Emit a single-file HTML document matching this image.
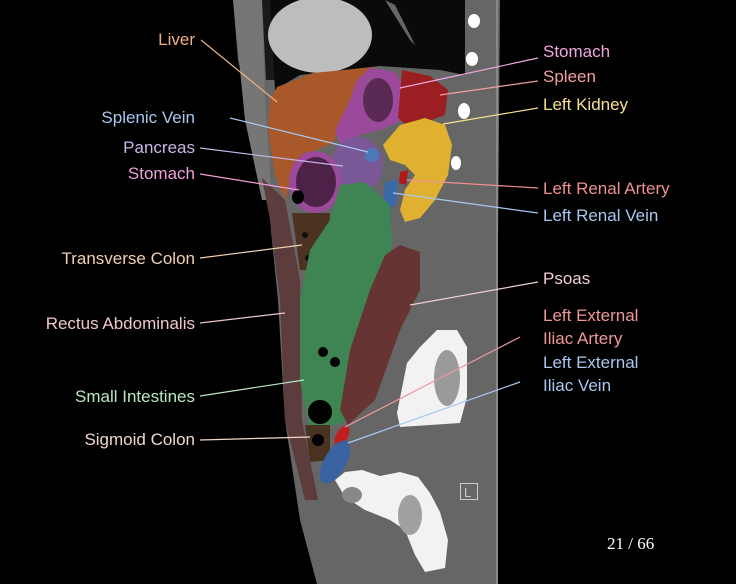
<!DOCTYPE html>
<html><head><meta charset="utf-8"><style>
html,body{margin:0;padding:0;background:#000;}
svg{display:block;}
text{font-family:"Liberation Sans","DejaVu Sans",sans-serif;font-size:17px;}
</style></head><body>
<svg width="736" height="584" viewBox="0 0 736 584" xmlns="http://www.w3.org/2000/svg">
<rect width="736" height="584" fill="#000"/>
<!-- body -->
<path d="M233,0 L500,0 L498,250 L497,584 L317,584 L300,520 L285,420 L278,300 L268,200 L252,120 L238,60 Z" fill="#666"/>
<path d="M233,0 L262,0 L265,100 L272,200 L262,200 L245,120 Z" fill="#767676"/>
<path d="M262,0 L275,0 L275,80 L266,80 Z" fill="#1a1a1a"/>
<!-- dark upper chest -->
<path d="M270,0 L465,0 L465,75 L440,70 L380,66 L300,75 L275,90 Z" fill="#0a0a0a"/>
<ellipse cx="320" cy="35" rx="52" ry="38" fill="#bdbdbd"/>
<path d="M385,0 L410,40 L415,45 L395,5Z" fill="#666"/>
<line x1="497" y1="0" x2="497" y2="584" stroke="#888" stroke-width="2"/>
<ellipse cx="474" cy="21" rx="6" ry="7" fill="#fff"/>
<ellipse cx="472" cy="59" rx="6" ry="7" fill="#fff"/>
<ellipse cx="464" cy="111" rx="6" ry="8" fill="#fff"/>
<ellipse cx="456" cy="163" rx="5" ry="7" fill="#fff"/>
<!-- liver -->
<path d="M270,100 L277,87 L313,73 L375,67 L363,77 L337,133 L333,143 L310,153 L292,173 L285,200 L275,175 L268,130 Z" fill="#a9582a"/>
<!-- stomach -->
<path d="M370,68 L395,72 L405,90 L402,120 L385,128 L360,135 L340,143 L335,130 L350,100 L357,80 Z" fill="#9b4a9b"/>
<ellipse cx="378" cy="100" rx="15" ry="22" fill="#5a2a55"/>
<!-- spleen -->
<path d="M402,70 L430,76 L448,90 L445,115 L410,128 L398,118 L400,95 Z" fill="#9a1e22"/>
<!-- kidney -->
<path d="M400,125 L425,118 L445,125 L452,145 L448,175 L435,200 L420,218 L405,222 L400,210 L405,190 L415,175 L405,165 L390,160 L383,145 Z" fill="#e0b030"/>
<!-- pancreas -->
<ellipse cx="357" cy="165" rx="26" ry="28" fill="#7a5898"/>
<!-- lower stomach -->
<ellipse cx="315" cy="182" rx="26" ry="31" fill="#9b4a9b"/>
<ellipse cx="316" cy="182" rx="20" ry="25" fill="#4e2248"/>
<ellipse cx="298" cy="197" rx="6" ry="7" fill="#000"/>
<!-- vessels -->
<circle cx="372" cy="155" r="7" fill="#4a7ab8"/>
<path d="M400,172 L408,170 L406,185 L399,183Z" fill="#b01a1a"/>
<path d="M385,182 L398,180 L396,205 L385,210 L383,195Z" fill="#3a6aa8"/>
<!-- rectus -->
<path d="M262,178 L285,200 L300,280 L302,420 L318,500 L305,500 L285,420 L280,300 L270,220 Z" fill="#5c3c3c"/>
<!-- transverse colon -->
<path d="M292,213 L330,213 L328,270 L300,270 Z" fill="#4c3220"/>
<circle cx="305" cy="235" r="3" fill="#111"/><circle cx="315" cy="248" r="3" fill="#111"/><circle cx="308" cy="258" r="3" fill="#111"/>
<!-- small intestines -->
<path d="M340,185 L365,182 L390,205 L392,240 L385,300 L370,360 L350,420 L335,425 L310,430 L300,380 L300,300 L310,250 L330,220 Z" fill="#3e8553"/>
<circle cx="323" cy="352" r="5" fill="#000"/><circle cx="335" cy="362" r="5" fill="#000"/><circle cx="320" cy="412" r="12" fill="#000"/>
<!-- psoas -->
<path d="M400,245 L420,252 L420,290 L400,330 L375,400 L348,425 L340,410 L350,350 L370,290 L385,255 Z" fill="#673434"/>
<!-- sigmoid -->
<path d="M305,425 L330,425 L330,460 L310,462 Z" fill="#4a3220"/>
<circle cx="318" cy="440" r="6" fill="#000"/>
<!-- iliac vessels -->
<ellipse cx="342" cy="436" rx="6" ry="11" transform="rotate(30 342 436)" fill="#c01e1e"/>
<ellipse cx="335" cy="462" rx="11" ry="24" transform="rotate(30 335 462)" fill="#3a62a0"/>
<!-- pelvic bone -->
<path d="M397,413 L407,363 L420,347 L437,330 L457,330 L467,347 L467,397 L460,423 L400,427 Z" fill="#f2f2f2"/>
<ellipse cx="447" cy="378" rx="13" ry="28" fill="#9a9a9a"/>
<!-- femoral head -->
<path d="M335,480 L345,497 L365,510 L390,520 L405,530 L415,555 L425,572 L445,568 L448,540 L440,512 L430,493 L418,477 L400,472 L380,476 L362,470 L345,472 Z" fill="#f2f2f2"/>
<ellipse cx="352" cy="495" rx="10" ry="8" fill="#888"/>
<ellipse cx="410" cy="515" rx="12" ry="20" fill="#a0a0a0"/>
<!-- L box -->
<rect x="460.5" y="483.5" width="17" height="16" fill="none" stroke="#ccc" stroke-width="1"/>
<text x="464" y="497" fill="#ccc" style="font-size:13px">L</text>
<!-- lines -->
<g stroke-width="1.2" fill="none">
<line x1="201" y1="40" x2="277" y2="102" stroke="#f0b080"/>
<line x1="230" y1="118" x2="368" y2="152" stroke="#a8c8f0"/>
<line x1="200" y1="148" x2="343" y2="166" stroke="#c8b8e8"/>
<line x1="200" y1="174" x2="299" y2="190" stroke="#f0a0d8"/>
<line x1="200" y1="258" x2="302" y2="245" stroke="#f0d0b0"/>
<line x1="200" y1="323" x2="285" y2="313" stroke="#f0c8c8"/>
<line x1="200" y1="396" x2="304" y2="380" stroke="#b8e8c0"/>
<line x1="200" y1="440" x2="310" y2="437" stroke="#f0d8c8"/>
<line x1="538" y1="58" x2="400" y2="88" stroke="#f0a8e0"/>
<line x1="538" y1="81" x2="440" y2="95" stroke="#f0a0a0"/>
<line x1="538" y1="108" x2="443" y2="124" stroke="#f8e090"/>
<line x1="538" y1="188" x2="407" y2="180" stroke="#f09090"/>
<line x1="538" y1="213" x2="393" y2="193" stroke="#a8c8f0"/>
<line x1="538" y1="282" x2="410" y2="305" stroke="#f0d0d0"/>
<line x1="520" y1="337" x2="345" y2="427" stroke="#f09898"/>
<line x1="520" y1="382" x2="348" y2="443" stroke="#a8c8f0"/>
</g>
<!-- labels -->
<g text-anchor="end">
<text x="195" y="45" fill="#f0b080">Liver</text>
<text x="195" y="123" fill="#a8c8f0">Splenic Vein</text>
<text x="195" y="153" fill="#c8b8e8">Pancreas</text>
<text x="195" y="179" fill="#f0a0d8">Stomach</text>
<text x="195" y="264" fill="#f0d0b0">Transverse Colon</text>
<text x="195" y="329" fill="#f0c8c8">Rectus Abdominalis</text>
<text x="195" y="402" fill="#b8e8c0">Small Intestines</text>
<text x="195" y="445" fill="#f0d8c8">Sigmoid Colon</text>
</g>
<g>
<text x="543" y="57" fill="#f0a8e0">Stomach</text>
<text x="543" y="82" fill="#f0a0a0">Spleen</text>
<text x="543" y="110" fill="#f8e090">Left Kidney</text>
<text x="543" y="194" fill="#f09090">Left Renal Artery</text>
<text x="543" y="221" fill="#a8c8f0">Left Renal Vein</text>
<text x="543" y="284" fill="#f0d0d0">Psoas</text>
<text x="543" y="321" fill="#f09898">Left External</text>
<text x="543" y="344" fill="#f09898">Iliac Artery</text>
<text x="543" y="368" fill="#a8c8f0">Left External</text>
<text x="543" y="391" fill="#a8c8f0">Iliac Vein</text>
</g>
<text x="607" y="549" fill="#fff" style="font-family:'Liberation Serif',serif;font-size:17px">21 / 66</text>
</svg>
</body></html>
